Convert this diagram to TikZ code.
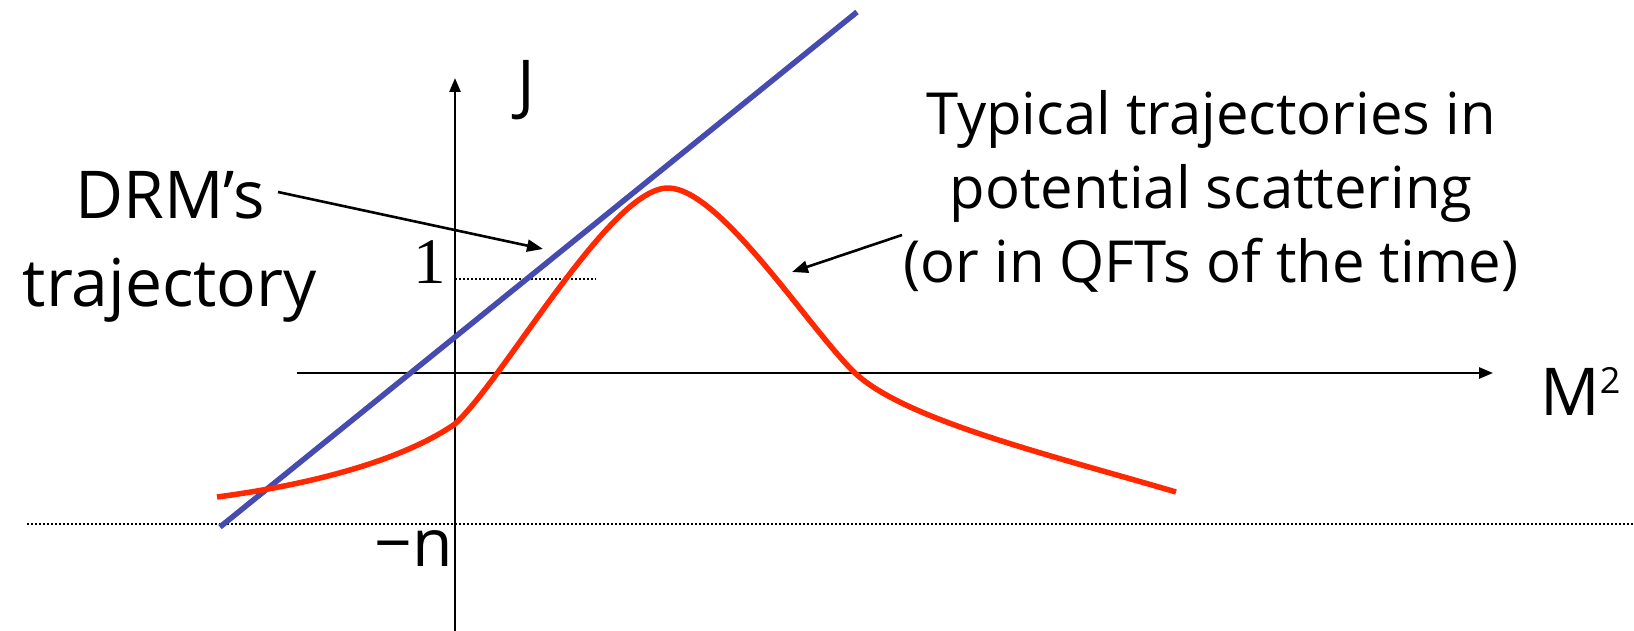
\documentclass[tikz,border=0pt]{standalone}
\usepackage{fontspec}
\setmainfont{Open Sans}
\newfontfamily\serifone{Liberation Serif}
\usetikzlibrary{arrows.meta}
\definecolor{trajblue}{RGB}{70,75,175}
\definecolor{trajred}{RGB}{255,40,0}
\begin{document}
\begin{tikzpicture}[x=1pt,y=-1pt,
  axisline/.style={line width=2.6pt,-{Triangle[length=14pt,width=11pt]}},
  pointer/.style={line width=2.6pt,-{Triangle[length=16pt,width=12pt]}},
  guide/.style={line width=2pt,dotted},
  label/.style={font=\fontsize{66}{76}\selectfont,inner sep=0pt},
  blueline/.style={trajblue,line width=5.5pt},
  redline/.style={trajred,line width=5.5pt,line join=round}]
\useasboundingbox (0,0) rectangle (1634,631);
% axes
\coordinate (yb) at (455,631);
\coordinate (yt) at (455,78);
\coordinate (xl) at (297,373);
\coordinate (xr) at (1493,373);
\draw[axisline] (yb) -- (yt);
\draw[axisline] (xl) -- (xr);
% dotted guides
\coordinate (g1a) at (455,279);
\coordinate (g1b) at (596,279);
\draw[guide] (g1a) -- (g1b);
\coordinate (gna) at (27,524);
\coordinate (gnb) at (1634,524);
\draw[guide] (gna) -- (gnb);
% labels
\node[label] (J) at (526,90) {J};
\node[label,anchor=base west] (M) at (1540,415) {M\raisebox{22pt}{\fontsize{36}{36}\selectfont 2}};
\node[label,font=\serifone\fontsize{65}{70}\selectfont] (one) at (430,262) {1};
\node[label] (mn) at (414,549) {−n};
\node[label,align=center,font=\fontsize{66}{88}\selectfont] (drm) at (170,247) {DRM’s\\trajectory};
\node[label,align=center,font=\fontsize{58}{74}\selectfont] (typ) at (1211,191) {Typical trajectories in\\potential scattering\\(or in QFTs of the time)};
% trajectories
\coordinate (b1) at (220,527);
\coordinate (b2) at (857,12);
\draw[blueline] (b1) -- (b2);
\coordinate (r0) at (217,497);
\coordinate (r1) at (455,424);
\coordinate (r2) at (668,188);
\coordinate (r3) at (855,373);
\coordinate (r4) at (1176,492);
\draw[redline] (r0) .. controls (330,482) and (410,455) .. (r1)
  .. controls (505,378) and (610,188) .. (r2)
  .. controls (720,188) and (810,330) .. (r3)
  .. controls (905,420) and (1050,455) .. (r4);
% pointers
\coordinate (drmfrom) at (278,192);
\coordinate (drmtip) at (543,249);
\coordinate (typfrom) at (902,235);
\coordinate (typtip) at (792,272);
\draw[pointer] (drmfrom) -- (drmtip);
\draw[pointer] (typfrom) -- (typtip);
\end{tikzpicture}
\end{document}
